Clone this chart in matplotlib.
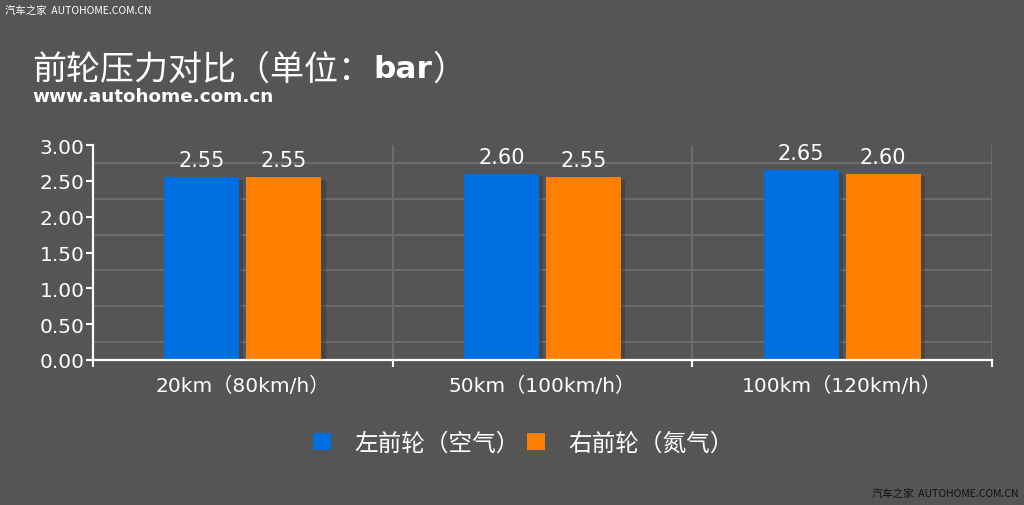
import numpy as np
import matplotlib
matplotlib.use('Agg')
from matplotlib import pyplot as plt
from matplotlib.patches import Patch
import matplotlib.patheffects as pe

plt.rcParams['font.family'] = ['DejaVu Sans', 'Noto Sans CJK SC']

categories = ['20km（80km/h）', '50km（100km/h）', '100km（120km/h）']
left_air = [2.55, 2.60, 2.65]
right_n2 = [2.55, 2.55, 2.60]
series_names = ['左前轮（空气）', '右前轮（氮气）']
colors = ['#0070e0', '#ff8000']
yticks = [0.0, 0.5, 1.0, 1.5, 2.0, 2.5, 3.0]

bg = '#555555'
grid_c = '#6c6c6c'

fig = plt.figure(figsize=(10.24, 5.06), dpi=100, facecolor=bg)
ax = fig.add_axes([93 / 1024, 145 / 506, 899 / 1024, 215 / 506], facecolor=bg)

x = np.arange(len(categories))
w = 0.25
shadow = [pe.SimplePatchShadow(offset=(3, -2), shadow_rgbFace='#2a2a2a', alpha=0.35), pe.Normal()]
b1 = ax.bar(x - 0.137, left_air, w, color=colors[0], zorder=3, path_effects=shadow)
b2 = ax.bar(x + 0.137, right_n2, w, color=colors[1], zorder=3, path_effects=shadow)

for bars, vals in ((b1, left_air), (b2, right_n2)):
    for r, v in zip(bars, vals):
        ax.annotate('%.2f' % v, (r.get_x() + r.get_width() / 2, v), xytext=(0, 5),
                    textcoords='offset points', ha='center', va='bottom',
                    color='white', fontsize=15)

ax.set_xlim(-0.5, 2.5)
ax.set_ylim(0, 3)
ax.set_yticks(yticks)
ax.set_yticklabels(['%.2f' % t for t in yticks])
ax.set_yticks(np.arange(0, 3.01, 0.25), minor=True)
ax.set_xticks(x)
ax.set_xticklabels(categories)
ax.set_xticks([-0.5, 0.5, 1.5, 2.5], minor=True)

ax.grid(True, which='minor', color=grid_c, linewidth=1.5, zorder=0)
ax.set_axisbelow(True)

for s in ('top', 'right'):
    ax.spines[s].set_visible(False)
for s in ('left', 'bottom'):
    ax.spines[s].set_color('white')
    ax.spines[s].set_linewidth(1.6)
    ax.spines[s].set_zorder(4)

ax.tick_params(axis='y', which='major', length=5, width=1.5, color='white',
               labelcolor='white', labelsize=14.5, pad=1)
ax.tick_params(axis='y', which='minor', length=0)
ax.tick_params(axis='x', which='major', length=0, labelcolor='white', labelsize=14.5, pad=11)
ax.tick_params(axis='x', which='minor', length=5, width=1.5, color='white')

# title
ty = 1 - 70 / 506
t1 = fig.text(32 / 1024, ty, '前轮压力对比（单位：', color='white', fontsize=24.5,
              family=['Noto Sans CJK SC'], va='center')
t2 = fig.text(0, 0, 'bar', color='white', fontsize=22.5, fontweight='bold',
              family=['DejaVu Sans'], va='center')
fig.canvas.draw()
r = fig.canvas.get_renderer()
bb = t1.get_window_extent(r)
t2.set_position(((bb.x1 + 1) / 1024, ty))
bb2 = t2.get_window_extent(r)
fig.text((bb2.x1 + 1) / 1024, ty, '）', color='white', fontsize=24.5,
         family=['Noto Sans CJK SC'], va='center')

fig.text(32 / 1024, 1 - 97 / 506, 'www.autohome.com.cn', color='white', fontsize=13.2,
         fontweight='bold', family=['DejaVu Sans'], va='center')

# watermarks
fig.text(5 / 1024, 1 - 12 / 506, '汽车之家  AUTOHOME.COM.CN', color='white', fontsize=7.5,
         family=['Noto Sans CJK SC'], va='center')
fig.text(1018 / 1024, 1 - 495 / 506, '汽车之家  AUTOHOME.COM.CN', color='#111111', fontsize=7.5,
         family=['Noto Sans CJK SC'], va='center', ha='right')

handles = [Patch(facecolor=c, edgecolor='none') for c in colors]
fig.legend(handles, series_names, loc='center', bbox_to_anchor=(0.511, 1 - 444 / 506),
           ncol=2, frameon=False, labelcolor='white',
           handlelength=0.75, handleheight=0.75, handletextpad=1.0, columnspacing=0.3,
           prop={'family': ['Noto Sans CJK SC'], 'size': 17})

fig.savefig('out.png', dpi=100, facecolor=bg)
